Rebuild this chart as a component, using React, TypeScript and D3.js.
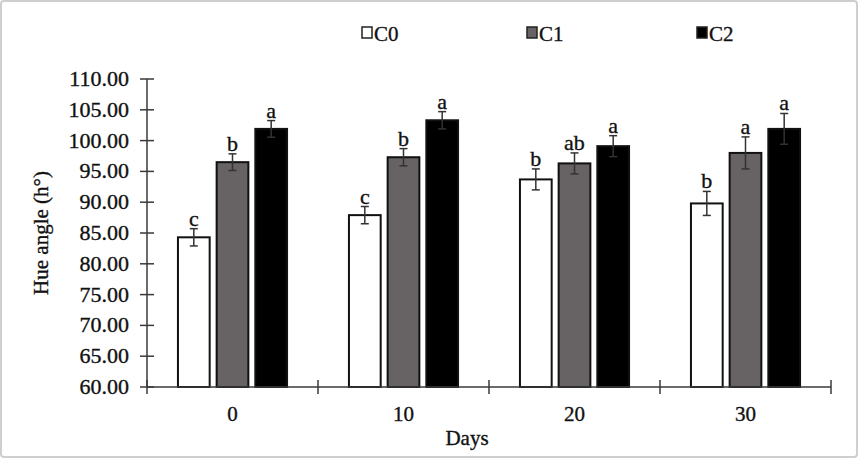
import React from "react";
import * as d3 from "d3";

const days = ["0", "10", "20", "30"];
const series = ["C0", "C1", "C2"];
const colors = ["#ffffff", "#676264", "#000000"];
const C0 = [84.3, 87.9, 93.7, 89.8];
const C1 = [96.5, 97.3, 96.3, 98.0];
const C2 = [101.9, 103.3, 99.1, 101.9];
const err0 = [1.4, 1.4, 1.7, 1.95];
const err1 = [1.35, 1.4, 1.7, 2.6];
const err2 = [1.35, 1.4, 1.7, 2.5];
const let0 = ["c", "c", "b", "b"];
const let1 = ["b", "b", "ab", "a"];
const let2 = ["a", "a", "a", "a"];
const yTicks = [60, 65, 70, 75, 80, 85, 90, 95, 100, 105, 110];

const W = 858;
const H = 458;
const font = "'Liberation Serif', 'Times New Roman', serif";

export default function App() {
  const values = [C0, C1, C2];
  const errs = [err0, err1, err2];
  const lets = [let0, let1, let2];
  const x0 = d3.scaleBand<string>().domain(days).range([147, 831]).padding(0);
  const x1 = d3
    .scaleBand<string>()
    .domain(series)
    .range([0, x0.step()])
    .paddingInner(0.18)
    .paddingOuter(0.8);
  const y = d3.scaleLinear().domain([60, 110]).range([387, 79]);
  const bw = x1.bandwidth();
  const axisColor = "#3a3a3a";
  const ts = { stroke: "#111", strokeWidth: 0.35 };

  return (
    <svg
      width={W}
      height={H}
      style={{ position: "absolute", left: 0, top: 0, background: "#fff" }}
      fontFamily={font}
    >
      <rect x={1} y={1} width={W - 2} height={H - 2} fill="#fff" stroke="#cfcfcf" strokeWidth={2} rx={3} />
      {/* legend */}
      {series.map((s, i) => {
        const lx = [362, 527, 697][i];
        return (
          <g key={s}>
            <rect x={lx} y={27} width={10} height={11} fill={colors[i]} stroke="#222" strokeWidth={1.5} />
            <text x={lx + 12} y={41} fontSize={21} fill="#111" {...ts}>
              {s}
            </text>
          </g>
        );
      })}
      {/* bars */}
      {days.map((d, di) =>
        series.map((s, si) => {
          const v = values[si][di];
          const e = errs[si][di];
          const bx = (x0(d) as number) + (x1(s) as number);
          const cx = bx + bw / 2;
          return (
            <g key={d + s}>
              <rect
                x={bx}
                y={y(v)}
                width={bw}
                height={y(60) - y(v)}
                fill={colors[si]}
                stroke="#111"
                strokeWidth={2}
              />
              <line x1={cx} x2={cx} y1={y(v + e)} y2={y(v - e)} stroke="#333" strokeWidth={1.5} />
              <line x1={cx - 4} x2={cx + 4} y1={y(v + e)} y2={y(v + e)} stroke="#333" strokeWidth={1.5} />
              <line x1={cx - 4} x2={cx + 4} y1={y(v - e)} y2={y(v - e)} stroke="#333" strokeWidth={1.5} />
              <text x={cx} y={y(v + e) - 3} textAnchor="middle" fontSize={22} fill="#111" {...ts}>
                {lets[si][di]}
              </text>
            </g>
          );
        })
      )}
      {/* y axis */}
      <line x1={147} x2={147} y1={y(110)} y2={y(60)} stroke={axisColor} strokeWidth={1.5} />
      {yTicks.map((t) => (
        <g key={t}>
          <line x1={140} x2={154} y1={y(t)} y2={y(t)} stroke={axisColor} strokeWidth={1.5} />
          <text x={129} y={y(t) + 7} textAnchor="end" fontSize={22} fill="#111" {...ts}>
            {t.toFixed(2)}
          </text>
        </g>
      ))}
      {/* x axis */}
      <line x1={147} x2={831} y1={387} y2={387} stroke={axisColor} strokeWidth={1.5} />
      {[...days.map((d) => x0(d) as number), 831].map((px, i) => (
        <line key={i} x1={px} x2={px} y1={380} y2={394} stroke={axisColor} strokeWidth={1.5} />
      ))}
      {days.map((d) => (
        <text
          key={d}
          x={(x0(d) as number) + x0.bandwidth() / 2}
          y={421}
          textAnchor="middle"
          fontSize={21}
          fill="#111"
          {...ts}
        >
          {d}
        </text>
      ))}
      <text x={467} y={445} textAnchor="middle" fontSize={21} fill="#111" {...ts}>
        Days
      </text>
      <text
        transform={`translate(48,233) rotate(-90)`}
        textAnchor="middle"
        fontSize={21}
        fill="#111"
        {...ts}
      >
        Hue angle (h°)
      </text>
    </svg>
  );
}
